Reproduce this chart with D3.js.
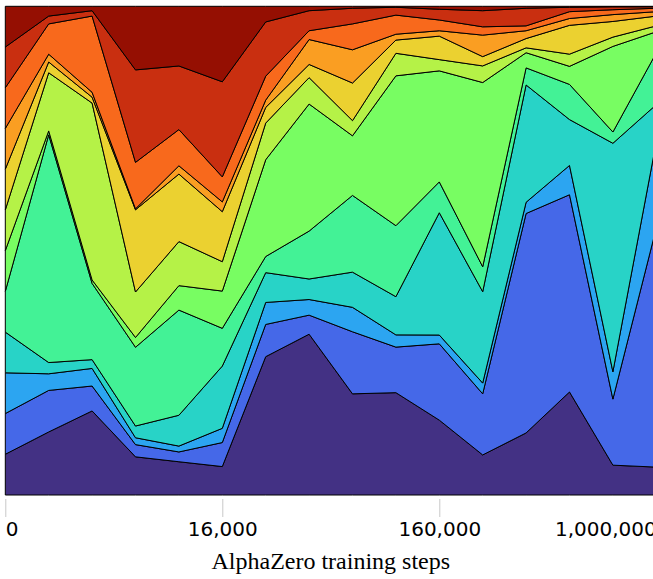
<!DOCTYPE html>
<html>
<head>
<meta charset="utf-8">
<script src="https://cdn.jsdelivr.net/npm/d3@7"></script>
<style>
  html, body { margin: 0; padding: 0; background: #fff; overflow: hidden; }
  svg { display: block; }
</style>
</head>
<body>
<svg id="chart" width="653" height="579"></svg>
<script>
// ---- data ----
const stepIndex  = [0, 1, 2, 3, 4, 5, 6, 7, 8, 9, 10, 11, 12, 13, 14, 15];
const tickIndex  = [0, 5, 10, 15];
const tickLabels = ["0", "16,000", "160,000", "1,000,000"];
const seriesNames = ["c01","c02","c03","c04","c05","c06","c07","c08","c09","c10","c11","c12"];

// share (%) of each layer, bottom to top
const c01 = [8.33, 12.9, 17.2, 7.8, 6.8, 5.8, 28.3, 32.9, 20.7, 20.9, 15.3, 8.2, 12.7, 21.1, 6.1, 5.7];
const c02 = [8.33, 8.5, 5.1, 2.5, 2.0, 4.9, 6.6, 3.9, 12.7, 9.3, 15.6, 12.5, 44.9, 40.4, 13.5, 48.9];
const c03 = [8.33, 3.4, 3.6, 1.4, 1.2, 2.9, 4.5, 3.2, 5.0, 2.5, 1.8, 2.2, 2.3, 6.0, 5.6, 17.6];
const c04 = [8.33, 2.3, 1.8, 2.4, 6.3, 12.7, 6.1, 4.2, 7.2, 7.8, 25.0, 18.7, 24.0, 9.4, 46.7, 7.6];
const c05 = [8.33, 46.6, 15.6, 16.1, 21.5, 7.7, 3.3, 9.8, 15.7, 14.5, 6.3, 5.1, 3.5, 7.2, 2.3, 10.6];
const c06 = [8.33, 0.8, 0.7, 2.0, 5.0, 7.6, 19.8, 26.0, 12.2, 30.6, 22.7, 37.7, 3.1, 3.7, 17.5, 4.3];
const c07 = [8.33, 11.9, 36.2, 9.3, 9.0, 6.0, 7.5, 5.4, 3.1, 4.6, 2.3, 3.4, 1.0, 2.5, 1.9, 1.2];
const c08 = [8.33, 2.2, 1.2, 16.8, 13.8, 10.2, 3.2, 2.7, 7.7, 2.7, 4.8, 1.9, 1.9, 5.9, 3.2, 2.0];
const c09 = [8.33, 1.6, 1.0, 0.2, 1.7, 2.0, 1.5, 5.1, 6.8, 1.2, 1.1, 4.4, 1.6, 1.4, 1.4, 0.9];
const c10 = [8.33, 6.2, 15.6, 9.5, 7.4, 5.1, 4.9, 1.8, 5.3, 3.9, 2.2, 1.7, 1.0, 1.4, 1.0, 0.7];
const c11 = [8.33, 1.6, 1.1, 18.9, 13.0, 19.4, 11.1, 4.1, 3.2, 1.6, 2.2, 3.3, 3.6, 0.9, 0.6, 0.3];
const c12 = [8.33, 2.0, 0.9, 13.0, 12.2, 15.4, 3.2, 0.9, 0.4, 0.2, 0.6, 0.9, 0.4, 0.2, 0.1, 0.1];

const layerColors = ["#433184","#4568E8","#2CA5F1","#28D3C7","#43F296","#78FD62",
                     "#B5F247","#EBD130","#FA9E22","#F8691C","#C92F10","#950F02"];

// ---- build ----
const seriesValues = [c01,c02,c03,c04,c05,c06,c07,c08,c09,c10,c11,c12];
const rows = stepIndex.map((s, i) => {
  const r = { step: s };
  seriesNames.forEach((k, j) => { r[k] = seriesValues[j][i]; });
  return r;
});

const svg = d3.select("#chart");
const x = d3.scaleLinear().domain([0, 15]).range([5.3, 656.3]);
const y = d3.scaleLinear().domain([0, 1]).range([495, 6.3]);
const color = d3.scaleOrdinal().domain(seriesNames).range(layerColors);

const stacked = d3.stack().keys(seriesNames).offset(d3.stackOffsetExpand)(rows);
const area = d3.area()
  .x(d => x(d.data.step))
  .y0(d => y(d[0]))
  .y1(d => y(d[1]));

svg.append("g").selectAll("path")
  .data(stacked)
  .join("path")
  .attr("d", area)
  .attr("fill", d => color(d.key))
  .attr("stroke", "#000")
  .attr("stroke-width", 1)
  .attr("stroke-linejoin", "miter");

// ---- axis ----
const axis = d3.axisBottom(x)
  .tickValues(tickIndex)
  .tickFormat((d, i) => tickLabels[i])
  .tickSize(0);

const gx = svg.append("g").attr("transform", "translate(0,495)").call(axis);
gx.select(".domain").remove();
gx.selectAll(".tick line")
  .attr("y1", 4).attr("y2", 22)
  .attr("stroke", "#c8c8c8").attr("stroke-width", 1);
gx.selectAll(".tick text")
  .attr("y", 41).attr("dy", 0)
  .attr("fill", "#000")
  .style("font-family", "'DejaVu Sans', sans-serif")
  .style("font-size", "20px")
  .attr("text-anchor", (d, i) => i === 0 ? "start" : (i === tickIndex.length - 1 ? "end" : "middle"));

svg.append("text")
  .attr("x", (x.range()[0] + x.range()[1]) / 2)
  .attr("y", 569)
  .attr("text-anchor", "middle")
  .style("font-family", "'Liberation Serif', 'Times New Roman', serif")
  .style("font-size", "24px")
  .attr("fill", "#000")
  .text("AlphaZero training steps");
</script>
</body>
</html>
